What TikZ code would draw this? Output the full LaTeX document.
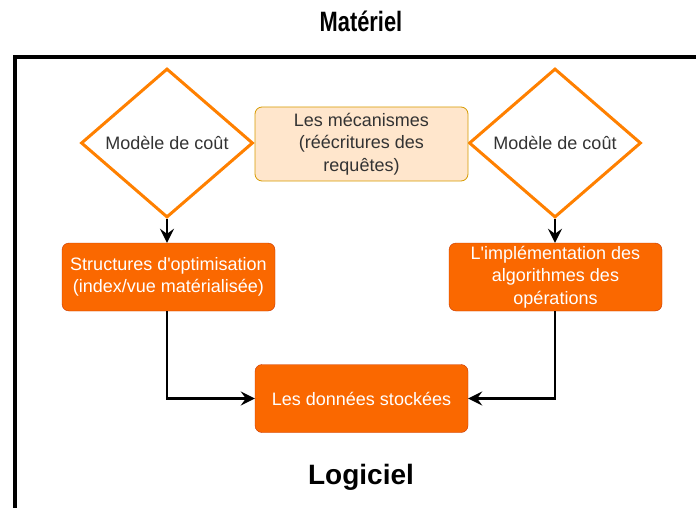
\documentclass[tikz,border=0pt]{standalone}
\usepackage{fontspec}
\setmainfont{Liberation Sans}
\usepackage{tikz}
\usetikzlibrary{arrows.meta, positioning, shapes.geometric}

\definecolor{costline}{HTML}{FF8000}
\definecolor{optfill}{HTML}{FA6800}
\definecolor{optline}{HTML}{C73500}
\definecolor{mecafill}{HTML}{FFE6CC}
\definecolor{mecaline}{HTML}{D79B00}
\definecolor{txtgray}{HTML}{333333}

\begin{document}
\begin{tikzpicture}[
		x=1pt, y=-1pt,
		->,
		>={Stealth[length=14pt, width=14pt, inset=5pt]},
		every node/.style={font=\fontsize{18}{22.5}\selectfont, align=center},
		cost/.style={diamond, draw=costline, line width=3pt, fill=white, text=txtgray,
			minimum width=172pt, minimum height=149pt, inner sep=0pt},
		meca/.style={rectangle, rounded corners=7pt, draw=mecaline, thick, fill=mecafill, text=txtgray,
			minimum width=213pt, minimum height=74pt},
		impl/.style={rectangle, rounded corners=7pt, draw=optline, thin, fill=optfill, text=white,
			minimum width=213pt, minimum height=68pt, inner sep=1pt},
		title/.style={font=\fontsize{28}{30}\selectfont\bfseries, text=black},
		link/.style={line width=2.2pt, black}]
	
	\useasboundingbox (0,0) rectangle (696,508);
	
	\draw[-, line width=4pt] (15,57) rectangle (760,560);
	
	\node[title, xscale=0.78, transform shape] (materiel) at (361,21) {Matériel};
	\node[title] (logiciel) at (361,477) {Logiciel};
	
	\node[cost] (cout_l) at (167,143) {Modèle de coût};
	\node[cost] (cout_r) at (555,143) {Modèle de coût};
	\node[meca] (mecanismes) at (361.5,144) {Les mécanismes\\(réécritures des\\requêtes)};
	
	\node[impl] (structures) at (168.5,277) {Structures d\textquotesingle optimisation\\(index/vue matérialisée)};
	\node[impl] (algos) at (555.5,277) {L\textquotesingle implémentation des\\algorithmes des\\opérations};
	\node[impl] (donnees) at (361.5,398.5) {Les données stockées};
	
	\draw[link] (cout_l.south) -- (structures.north -| cout_l.south);
	\draw[link] (cout_r.south) -- (algos.north -| cout_r.south);
	
	\draw[link] (structures.south -| cout_l.south) |- (donnees.west);
	\draw[link] (algos.south -| cout_r.south) |- (donnees.east);
	
\end{tikzpicture}
\end{document}
